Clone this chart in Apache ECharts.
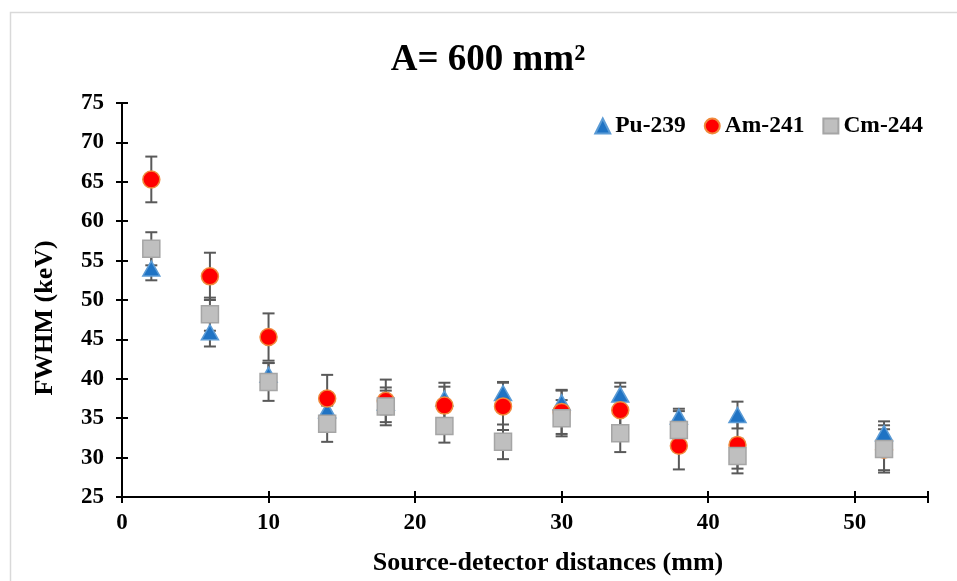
<!DOCTYPE html>
<html><head><meta charset="utf-8">
<script src="https://cdn.jsdelivr.net/npm/echarts@6/dist/echarts.min.js"></script>
<style>html,body{margin:0;padding:0;background:#fff}#c{width:957px;height:581px}</style>
</head><body><div id="c"></div>
<script>
const titleText = 'A= 600 mm²';
const xName = 'Source-detector distances (mm)';
const yName = 'FWHM (keV)';
const seriesNames = ['Pu-239', 'Am-241', 'Cm-244'];
const distances = [2, 6, 10, 14, 18, 22, 26, 30, 34, 38, 42, 52];
const puValues = [54.0, 45.9, 40.5, 36.0, 37.0, 37.5, 38.2, 37.0, 38.0, 35.2, 35.4, 33.1];
const puErrors = [1.5, 1.8, 1.5, 1.5, 1.5, 1.5, 1.4, 1.5, 1.5, 1.0, 1.7, 1.5];
const amValues = [65.3, 53.0, 45.3, 37.5, 37.2, 36.6, 36.5, 35.8, 36.0, 31.5, 31.6, 31.0];
const amErrors = [2.9, 3.0, 3.0, 3.0, 2.7, 2.9, 3.0, 2.8, 3.0, 3.0, 3.0, 2.6];
const cmValues = [56.5, 48.2, 39.6, 34.3, 36.5, 34.0, 32.0, 35.0, 33.1, 33.5, 30.2, 31.1];
const cmErrors = [2.1, 2.1, 2.4, 2.3, 2.4, 2.1, 2.2, 2.3, 2.4, 2.4, 2.2, 3.0];
const yMin = 25, yMax = 75, yStep = 5;
const xMin = 0, xMax = 55, xStep = 10;

const FONT = '"Liberation Serif", "Times New Roman", serif';
const chart = echarts.init(document.getElementById('c'));

function pts(vals) { return distances.map((d, i) => [d, vals[i]]); }
function errs(vals, e) { return distances.map((d, i) => [d, vals[i] - e[i], vals[i] + e[i]]); }

function errRender(params, api) {
  const x = api.value(0);
  const lo = api.coord([x, api.value(1)]);
  const hi = api.coord([x, api.value(2)]);
  const hw = 6;
  const style = { stroke: '#595959', lineWidth: 2 };
  return {
    type: 'group',
    children: [
      { type: 'line', shape: { x1: lo[0], y1: lo[1], x2: hi[0], y2: hi[1] }, style },
      { type: 'line', shape: { x1: lo[0] - hw, y1: lo[1], x2: lo[0] + hw, y2: lo[1] }, style },
      { type: 'line', shape: { x1: hi[0] - hw, y1: hi[1], x2: hi[0] + hw, y2: hi[1] }, style }
    ]
  };
}

const styles = [
  { symbol: 'triangle', color: '#1f73c4', border: '#5b9bd5', size: [17, 15] },
  { symbol: 'circle', color: '#ff0000', border: '#f08a3c', size: 17 },
  { symbol: 'rect', color: '#bfbfbf', border: '#a5a5a5', size: 17 }
];
const vals = [puValues, amValues, cmValues];
const es = [puErrors, amErrors, cmErrors];

const series = [];
for (let k = 0; k < 3; k++) {
  series.push({
    type: 'custom', name: seriesNames[k] + ' err', renderItem: errRender,
    data: errs(vals[k], es[k]), z: 1, silent: true,
    encode: { x: 0, y: [1, 2] }
  });
}
for (let k = 0; k < 3; k++) {
  series.push({
    type: 'scatter', name: seriesNames[k], data: pts(vals[k]),
    symbol: styles[k].symbol, symbolSize: styles[k].size, z: 3 + k,
    itemStyle: { color: styles[k].color, borderColor: styles[k].border, borderWidth: 1.5, opacity: 1 }
  });
}

const axisLine = { show: true, lineStyle: { color: '#000', width: 2 } };
const tickStyle = { color: '#000', width: 2 };
const nameStyle = { fontFamily: FONT, fontWeight: 'bold', fontSize: 26, fill: '#000' };

chart.setOption({
  animation: false,
  backgroundColor: '#fff',
  graphic: [{
    type: 'rect', shape: { x: 10.5, y: 12.5, width: 1000, height: 1000 },
    style: { fill: 'none', stroke: '#d9d9d9', lineWidth: 1.5 }, z: -10
  }, {
    type: 'text', x: 548, y: 563,
    style: Object.assign({ text: xName, align: 'center', verticalAlign: 'middle' }, nameStyle)
  }, {
    type: 'text', x: 45, y: 318, rotation: Math.PI / 2,
    style: Object.assign({ text: yName, align: 'center', verticalAlign: 'middle' }, nameStyle)
  }],
  title: {
    text: titleText, left: 483, top: 37, textAlign: 'center',
    textStyle: { fontFamily: FONT, fontWeight: 'bold', fontSize: 37, color: '#000' }
  },
  legend: {
    data: seriesNames.map((n, k) => ({ name: n, icon: styles[k].symbol })),
    right: 29, top: 109, itemWidth: 15, itemHeight: 15, itemGap: 18,
    textStyle: { fontFamily: FONT, fontWeight: 'bold', fontSize: 23.5, color: '#000' }
  },
  grid: { left: 122, right: 29, top: 103, bottom: 84, containLabel: false },
  xAxis: [{
    type: 'value', min: xMin, max: xMax, interval: xStep,
    axisLine, axisTick: { show: true, length: 6, lineStyle: tickStyle },
    axisLabel: { fontFamily: FONT, fontWeight: 'bold', fontSize: 23, color: '#000', margin: 15,
      formatter: v => (v > 50 ? '' : v) },
    splitLine: { show: false }
  }, {
    type: 'value', min: xMin, max: xMax, interval: xStep, position: 'bottom', gridIndex: 0,
    axisLine: { show: false }, axisTick: { show: true, inside: true, length: 6, lineStyle: tickStyle },
    axisLabel: { show: false }, splitLine: { show: false }
  }],
  yAxis: [{
    type: 'value', min: yMin, max: yMax, interval: yStep,
    axisLine, axisTick: { show: true, length: 6, lineStyle: tickStyle },
    axisLabel: { fontFamily: FONT, fontWeight: 'bold', fontSize: 23, color: '#000', margin: 18 },
    splitLine: { show: false }
  }, {
    type: 'value', min: yMin, max: yMax, interval: yStep, position: 'left', gridIndex: 0,
    axisLine: { show: false }, axisTick: { show: true, inside: true, length: 6, lineStyle: tickStyle },
    axisLabel: { show: false }, splitLine: { show: false }
  }],
  series
});
</script></body></html>
